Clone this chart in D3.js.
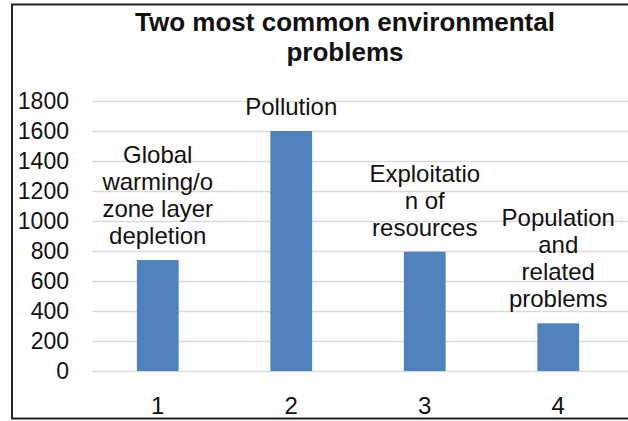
<!DOCTYPE html>
<html>
<head>
<meta charset="utf-8">
<script src="https://cdnjs.cloudflare.com/ajax/libs/d3/7.8.5/d3.min.js"></script>
<style>
  body { margin: 0; background: #fff; }
  text { font-family: "Liberation Sans", Arial, sans-serif; fill: #111; }
</style>
</head>
<body>
<div id="grafica"></div>
<script>
// data
var categories = ["1", "2", "3", "4"];
var values = [740, 1600, 795, 318];
var labels = [
  ["Global", "warming/o", "zone layer", "depletion"],
  ["Pollution"],
  ["Exploitatio", "n of", "resources"],
  ["Population", "and", "related", "problems"]
];
var yTicks = [0, 200, 400, 600, 800, 1000, 1200, 1400, 1600, 1800];
var titleLines = ["Two most common environmental", "problems"];

var width = 628, height = 421;

var svg = d3.select("#grafica")
  .append("svg")
    .attr("width", width)
    .attr("height", height);

// frame (right side runs off the picture)
svg.append("rect")
  .attr("x", 12)
  .attr("y", 4.5)
  .attr("width", 700)
  .attr("height", 414)
  .attr("fill", "none")
  .attr("stroke", "#222")
  .attr("stroke-width", 2);

var x = d3.scaleBand()
  .domain(categories)
  .range([91, 625])
  .paddingInner(0.687)
  .paddingOuter(0.3435);

var y = d3.scaleLinear()
  .domain([0, 1800])
  .range([371, 101]);

// gridlines
svg.append("g")
  .attr("transform", "translate(92,0)")
  .call(d3.axisLeft(y).tickValues(yTicks).tickSize(-(width - 92)).tickFormat(""))
  .call(function(g) { g.select(".domain").remove(); })
  .selectAll("line")
    .attr("stroke", "#d9d9d9")
    .attr("stroke-width", 1.5);

// y axis labels
var yAxis = svg.append("g")
  .attr("transform", "translate(69,0)")
  .call(d3.axisLeft(y).tickValues(yTicks).tickSize(0).tickPadding(0).tickFormat(d3.format("d")));
yAxis.select(".domain").remove();
yAxis.selectAll("text")
  .style("font-size", "23px")
  .style("font-family", "'Liberation Sans', Arial, sans-serif")
  .attr("fill", "#111");

// x axis labels
var xAxis = svg.append("g")
  .attr("transform", "translate(0,395)")
  .call(d3.axisBottom(x).tickSize(0).tickPadding(0));
xAxis.select(".domain").remove();
xAxis.selectAll("text")
  .attr("dy", "0.78em")
  .style("font-size", "24px")
  .style("font-family", "'Liberation Sans', Arial, sans-serif")
  .attr("fill", "#111");

// bars
svg.selectAll(".bar")
  .data(values)
  .enter().append("rect")
    .attr("class", "bar")
    .attr("x", function(d, i) { return x(categories[i]); })
    .attr("y", function(d) { return y(d); })
    .attr("width", x.bandwidth())
    .attr("height", function(d) { return y(0) - y(d); })
    .attr("fill", "#4f81bd");

// data labels, wrapped like the original
var lineH = 27;
svg.selectAll(".lbl")
  .data(labels)
  .enter().append("text")
    .attr("class", "lbl")
    .attr("text-anchor", "middle")
    .style("font-size", "24px")
    .each(function(lines, i) {
      var cx = x(categories[i]) + x.bandwidth() / 2;
      var base = y(values[i]) - 16 - (lines.length - 1) * lineH;
      d3.select(this).selectAll("tspan")
        .data(lines)
        .enter().append("tspan")
          .attr("x", cx)
          .attr("y", function(d, j) { return base + j * lineH; })
          .text(function(d) { return d; });
    });

// title
svg.append("text")
  .attr("text-anchor", "middle")
  .style("font-size", "26px")
  .style("font-weight", "bold")
  .selectAll("tspan")
  .data(titleLines)
  .enter().append("tspan")
    .attr("x", 345)
    .attr("y", function(d, i) { return 31 + i * 30; })
    .text(function(d) { return d; });
</script>
</body>
</html>
